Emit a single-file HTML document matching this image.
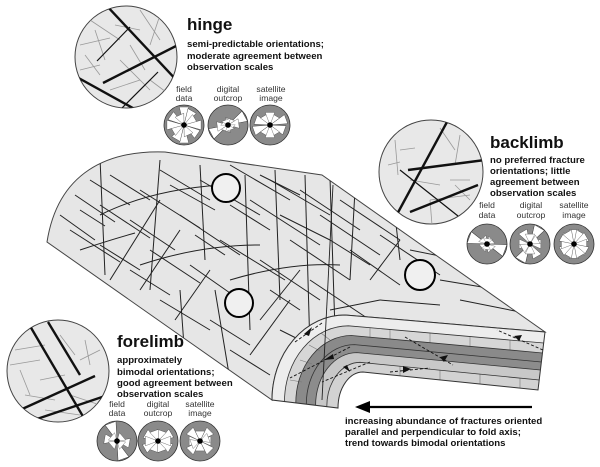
<!DOCTYPE html>
<html><head><meta charset="utf-8"><style>
html,body{margin:0;padding:0;background:#fff;}
svg{display:block;font-family:"Liberation Sans",Arial,sans-serif;}
.t{font-weight:bold;font-size:17px;fill:#111}
.s{font-weight:bold;font-size:9.6px;fill:#111}
.l{font-size:8.6px;fill:#333;text-anchor:middle}
.fr line,.fr path{stroke:#222;stroke-width:1;fill:none}
.g line{stroke:#999;stroke-width:0.8}
.k line{stroke:#111;stroke-width:2.4}
.k2 line{stroke:#111;stroke-width:1.2}
.pt use{fill:#fff;stroke:#333;stroke-width:0.4}
.tk line{stroke:#777;stroke-width:0.6}
.da{stroke:#111;stroke-width:0.9;stroke-dasharray:3,2;fill:none}
</style></head><body>
<svg width="600" height="467" viewBox="0 0 600 467">
<defs>
<path id="p" d="M0,0L-4.8,-18L4.8,-18Z"/>
<clipPath id="cs"><path d="M47,242 C58,172 108,150 165,152 L322,175 L545,332 L345,315 A73,85 0 0 0 272,400 Z"/></clipPath>
<clipPath id="ch"><circle cx="126" cy="57" r="51"/></clipPath>
<clipPath id="cb"><circle cx="431" cy="172" r="52"/></clipPath>
<clipPath id="cf"><circle cx="58" cy="371" r="51"/></clipPath>
</defs>

<path d="M47,242 C58,172 108,150 165,152 L322,175 L545,332 L345,315 A73,85 0 0 0 272,400 Z" fill="#e6e6e6" stroke="#444" stroke-width="1"/>
<g class="fr" clip-path="url(#cs)">
<line x1="60" y1="215" x2="95" y2="240"/><line x1="75" y1="195" x2="115" y2="222"/><line x1="90" y1="180" x2="130" y2="205"/><line x1="70" y1="230" x2="120" y2="262"/><line x1="100" y1="205" x2="150" y2="238"/><line x1="110" y1="175" x2="150" y2="200"/><line x1="130" y1="220" x2="175" y2="250"/><line x1="140" y1="190" x2="200" y2="228"/><line x1="160" y1="170" x2="210" y2="200"/><line x1="150" y1="250" x2="200" y2="283"/><line x1="180" y1="215" x2="240" y2="255"/><line x1="200" y1="180" x2="260" y2="215"/><line x1="230" y1="165" x2="290" y2="200"/><line x1="190" y1="265" x2="240" y2="300"/><line x1="220" y1="240" x2="285" y2="280"/><line x1="250" y1="200" x2="320" y2="245"/><line x1="270" y1="180" x2="330" y2="215"/><line x1="300" y1="190" x2="360" y2="230"/><line x1="260" y1="260" x2="320" y2="300"/><line x1="290" y1="240" x2="350" y2="280"/><line x1="320" y1="215" x2="380" y2="255"/><line x1="340" y1="200" x2="400" y2="240"/><line x1="310" y1="280" x2="370" y2="320"/><line x1="350" y1="250" x2="400" y2="285"/><line x1="380" y1="235" x2="440" y2="275"/><line x1="130" y1="270" x2="170" y2="295"/><line x1="160" y1="300" x2="210" y2="330"/><line x1="210" y1="320" x2="250" y2="345"/><line x1="230" y1="350" x2="270" y2="375"/><line x1="280" y1="330" x2="320" y2="350"/><line x1="100" y1="245" x2="140" y2="270"/>
<line x1="170" y1="185" x2="215" y2="210"/><line x1="260" y1="175" x2="300" y2="195"/><line x1="280" y1="215" x2="330" y2="240"/><line x1="230" y1="205" x2="270" y2="230"/><line x1="330" y1="240" x2="370" y2="265"/><line x1="80" y1="210" x2="105" y2="226"/><line x1="195" y1="235" x2="225" y2="255"/><line x1="270" y1="290" x2="300" y2="310"/>
<line x1="100" y1="158" x2="105" y2="275"/><line x1="160" y1="160" x2="150" y2="290"/><line x1="200" y1="165" x2="205" y2="260"/><line x1="245" y1="175" x2="250" y2="330"/><line x1="275" y1="170" x2="280" y2="300"/><line x1="305" y1="175" x2="310" y2="350"/><line x1="330" y1="178" x2="335" y2="330"/><line x1="355" y1="190" x2="350" y2="280"/><line x1="395" y1="215" x2="400" y2="260"/><line x1="215" y1="290" x2="230" y2="380"/><line x1="180" y1="290" x2="185" y2="360"/>
<path d="M100,215 Q150,190 220,185"/><path d="M140,265 Q200,245 260,245"/><path d="M230,280 Q290,262 340,265"/><path d="M80,250 Q110,240 135,233"/>
<line x1="110" y1="280" x2="160" y2="200"/><line x1="140" y1="290" x2="180" y2="230"/><line x1="175" y1="320" x2="210" y2="270"/><line x1="260" y1="320" x2="300" y2="270"/><line x1="250" y1="355" x2="290" y2="300"/><line x1="370" y1="280" x2="400" y2="240"/>
<line x1="410" y1="250" x2="470" y2="262"/><line x1="440" y1="280" x2="500" y2="290"/><line x1="460" y1="300" x2="520" y2="312"/><line x1="380" y1="300" x2="440" y2="305"/><line x1="330" y1="310" x2="380" y2="300"/><line x1="60" y1="258" x2="90" y2="275"/><line x1="120" y1="300" x2="160" y2="325"/>
</g>

<path d="M272,400 A73,85 0 0 1 345,315 L545,332 L543.7,343 L348.4,325.8 A63.9,75.7 0 0 0 284.5,401.5 Z" fill="#ededed"/>
<path d="M284.5,401.5 A63.9,75.7 0 0 1 348.4,325.8 L543.7,343 L542.5,353 L351.5,335.5 A55.7,67.4 0 0 0 295.8,402.9 Z" fill="#d6d6d6"/>
<path d="M295.8,402.9 A55.7,67.4 0 0 1 351.5,335.5 L542.5,353 L541.4,362 L354.4,344.6 A48.1,59.6 0 0 0 306.3,404.2 Z" fill="#8a8a8a"/>
<path d="M306.3,404.2 A48.1,59.6 0 0 1 354.4,344.6 L541.4,362 L540.4,370 L356.9,352.6 A41.3,52.7 0 0 0 315.6,405.3 Z" fill="#8c8c8c"/>
<path d="M315.6,405.3 A41.3,52.7 0 0 1 356.9,352.6 L540.4,370 L539.2,380 L360,362.3 A33.2,44.3 0 0 0 326.8,406.6 Z" fill="#c8c8c8"/>
<path d="M326.8,406.6 A33.2,44.3 0 0 1 360,362.3 L539.2,380 L538,390 L363,372 A25,36 0 0 0 338,408 Z" fill="#d2d2d2"/>
<g class="tk">
<line x1="390" y1="329.5" x2="390" y2="339"/><line x1="430" y1="333" x2="430" y2="342.6"/><line x1="470" y1="336.5" x2="470" y2="346.3"/><line x1="510" y1="340" x2="510" y2="350"/><line x1="370" y1="328" x2="370" y2="337"/>
<line x1="400" y1="366.3" x2="400" y2="375.7"/><line x1="440" y1="370.3" x2="440" y2="379.7"/><line x1="480" y1="374.3" x2="480" y2="383.7"/><line x1="520" y1="378.3" x2="520" y2="387.8"/>
<line x1="300" y1="360" x2="312" y2="364"/><line x1="309" y1="345" x2="320" y2="351"/><line x1="321" y1="333" x2="330" y2="340"/><line x1="290" y1="380" x2="302" y2="382"/>
</g>
<g fill="none" stroke="#333" stroke-width="0.8">
<path d="M284.5,401.5 A63.9,75.7 0 0 1 348.4,325.8 L543.7,343"/>
<path d="M295.8,402.9 A55.7,67.4 0 0 1 351.5,335.5 L542.5,353"/>
<path d="M306.3,404.2 A48.1,59.6 0 0 1 354.4,344.6 L541.4,362"/>
<path d="M315.6,405.3 A41.3,52.7 0 0 1 356.9,352.6 L540.4,370"/>
<path d="M326.8,406.6 A33.2,44.3 0 0 1 360,362.3 L539.2,380"/>
</g>
<path d="M272,400 A73,85 0 0 1 345,315 L545,332 L538,390 L363,372 A25,36 0 0 0 338,408 Z" fill="none" stroke="#333" stroke-width="1"/>
<line x1="333" y1="185" x2="322" y2="400" stroke="#222" stroke-width="0.9"/>
<path class="da" d="M295,342 L322,323"/><path d="M312,327 L304,334 L309,336Z" fill="#111"/>
<path class="da" d="M350,347 L290,378"/><path d="M324,360 L333,354 L334,359Z" fill="#111"/>
<path class="da" d="M405,337 L453,365"/><path d="M448,355 L440,357 L444,362Z" fill="#111"/>
<path class="da" d="M543,350 L497,330"/><path d="M522,335 L514,336 L519,341Z" fill="#111"/>
<path class="da" d="M370,362 L322,382"/><path d="M343,367 L350,372 L347,365Z" fill="#111"/>
<path class="da" d="M390,372 L430,368"/><path d="M403,366 L411,369 L403,373Z" fill="#111"/>

<g fill="#f0f0f0" stroke="#000" stroke-width="2"><circle cx="226" cy="188" r="14"/><circle cx="239" cy="303" r="14"/><circle cx="420" cy="275" r="15"/></g>

<line x1="532" y1="407" x2="368" y2="407" stroke="#000" stroke-width="2.2"/>
<path d="M355,407 L370,401 L370,413Z" fill="#000"/>
<text class="s" x="345" y="424">increasing abundance of fractures oriented</text>
<text class="s" x="345" y="435">parallel and perpendicular to fold axis;</text>
<text class="s" x="345" y="446">trend towards bimodal orientations</text>

<circle cx="126" cy="57" r="51" fill="#e8e8e8" stroke="#444"/>
<g clip-path="url(#ch)">
<g class="g"><line x1="90" y1="20" x2="120" y2="40"/><line x1="80" y1="45" x2="110" y2="38"/><line x1="140" y1="10" x2="160" y2="40"/><line x1="160" y1="15" x2="150" y2="45"/><line x1="85" y1="55" x2="100" y2="75"/><line x1="120" y1="60" x2="150" y2="90"/><line x1="130" y1="45" x2="145" y2="70"/><line x1="110" y1="90" x2="140" y2="80"/><line x1="150" y1="80" x2="170" y2="95"/><line x1="95" y1="30" x2="105" y2="60"/><line x1="80" y1="70" x2="100" y2="65"/><line x1="115" y1="25" x2="140" y2="30"/></g>
<g class="k"><line x1="106" y1="5" x2="180" y2="84"/><line x1="103" y1="83" x2="180" y2="44"/><line x1="75" y1="76" x2="140" y2="112"/></g>
<g class="k2"><line x1="97" y1="61" x2="130" y2="27"/><line x1="120" y1="110" x2="158" y2="72"/></g>
</g>
<text class="t" x="187" y="30">hinge</text>
<text class="s" x="187" y="47">semi-predictable orientations;</text>
<text class="s" x="187" y="59">moderate agreement between</text>
<text class="s" x="187" y="70">observation scales</text>
<text class="l" x="184" y="92">field</text><text class="l" x="184" y="101">data</text>
<text class="l" x="228" y="92">digital</text><text class="l" x="228" y="101">outcrop</text>
<text class="l" x="271" y="92">satellite</text><text class="l" x="271" y="101">image</text>

<circle cx="431" cy="172" r="52" fill="#e8e8e8" stroke="#444"/>
<g clip-path="url(#cb)">
<g class="g"><line x1="395" y1="140" x2="398" y2="175"/><line x1="400" y1="150" x2="415" y2="148"/><line x1="440" y1="128" x2="455" y2="150"/><line x1="460" y1="135" x2="455" y2="165"/><line x1="410" y1="180" x2="440" y2="185"/><line x1="430" y1="200" x2="470" y2="195"/><line x1="430" y1="200" x2="432" y2="225"/><line x1="455" y1="185" x2="470" y2="200"/><line x1="388" y1="165" x2="400" y2="162"/><line x1="450" y1="180" x2="470" y2="180"/></g>
<g class="k"><line x1="447" y1="122" x2="395" y2="218"/><line x1="408" y1="170" x2="485" y2="160"/><line x1="410" y1="212" x2="478" y2="185"/></g>
<g class="k2"><line x1="400" y1="170" x2="458" y2="216"/></g>
</g>
<text class="t" x="490" y="148">backlimb</text>
<text class="s" x="490" y="163">no preferred fracture</text>
<text class="s" x="490" y="174">orientations; little</text>
<text class="s" x="490" y="185">agreement between</text>
<text class="s" x="490" y="196">observation scales</text>
<text class="l" x="487" y="208">field</text><text class="l" x="487" y="218">data</text>
<text class="l" x="531" y="208">digital</text><text class="l" x="531" y="218">outcrop</text>
<text class="l" x="574" y="208">satellite</text><text class="l" x="574" y="218">image</text>

<circle cx="58" cy="371" r="51" fill="#e8e8e8" stroke="#444"/>
<g clip-path="url(#cf)">
<g class="g"><line x1="15" y1="350" x2="45" y2="345"/><line x1="20" y1="370" x2="30" y2="395"/><line x1="60" y1="335" x2="75" y2="355"/><line x1="85" y1="340" x2="90" y2="365"/><line x1="40" y1="380" x2="65" y2="375"/><line x1="70" y1="395" x2="100" y2="405"/><line x1="25" y1="395" x2="55" y2="400"/><line x1="10" y1="365" x2="40" y2="360"/><line x1="80" y1="360" x2="100" y2="350"/><line x1="45" y1="410" x2="80" y2="415"/></g>
<g class="k"><line x1="48" y1="322" x2="80" y2="375"/><line x1="30" y1="326" x2="88" y2="425"/><line x1="20" y1="410" x2="95" y2="376"/><line x1="34" y1="420" x2="108" y2="395"/></g>
</g>
<text class="t" x="117" y="347">forelimb</text>
<text class="s" x="117" y="363">approximately</text>
<text class="s" x="117" y="375">bimodal orientations;</text>
<text class="s" x="117" y="386">good agreement between</text>
<text class="s" x="117" y="397">observation scales</text>
<text class="l" x="117" y="407">field</text><text class="l" x="117" y="416">data</text>
<text class="l" x="158" y="407">digital</text><text class="l" x="158" y="416">outcrop</text>
<text class="l" x="200" y="407">satellite</text><text class="l" x="200" y="416">image</text>

<g fill="#8a8a8a" stroke="#333" stroke-width="0.8">
<circle cx="184" cy="125" r="20"/><circle cx="228" cy="125" r="20"/><circle cx="270" cy="125" r="20"/>
<circle cx="487" cy="244" r="20"/><circle cx="530" cy="244" r="20"/><circle cx="574" cy="244" r="20"/>
<circle cx="117" cy="441" r="20"/><circle cx="158" cy="441" r="20"/><circle cx="200" cy="441" r="20"/>
</g>
<g class="pt">
<g transform="translate(184,125)"><use href="#p" transform="rotate(0)"/><use href="#p" transform="rotate(180)"/><use href="#p" transform="rotate(30) scale(1,.9)"/><use href="#p" transform="rotate(210) scale(1,.9)"/><use href="#p" transform="rotate(60) scale(1,.7)"/><use href="#p" transform="rotate(240) scale(1,.7)"/><use href="#p" transform="rotate(90) scale(1,.95)"/><use href="#p" transform="rotate(270) scale(1,.95)"/><use href="#p" transform="rotate(125) scale(1,.9)"/><use href="#p" transform="rotate(305) scale(1,.9)"/><use href="#p" transform="rotate(155) scale(1,.6)"/><use href="#p" transform="rotate(335) scale(1,.6)"/></g>
<g transform="translate(228,125)"><use href="#p" transform="rotate(62) scale(1.2,1.05)"/><use href="#p" transform="rotate(242) scale(1.2,1.05)"/><use href="#p" transform="rotate(82) scale(1,.6)"/><use href="#p" transform="rotate(262) scale(1,.6)"/><use href="#p" transform="rotate(20) scale(1,.35)"/><use href="#p" transform="rotate(200) scale(1,.35)"/><use href="#p" transform="rotate(130) scale(1,.3)"/><use href="#p" transform="rotate(310) scale(1,.3)"/><use href="#p" transform="rotate(160) scale(1,.3)"/><use href="#p" transform="rotate(340) scale(1,.3)"/></g>
<g transform="translate(270,125)"><use href="#p" transform="rotate(70) scale(1,.95)"/><use href="#p" transform="rotate(250) scale(1,.95)"/><use href="#p" transform="rotate(110) scale(1,.85)"/><use href="#p" transform="rotate(290) scale(1,.85)"/><use href="#p" transform="rotate(30) scale(1,.6)"/><use href="#p" transform="rotate(210) scale(1,.6)"/><use href="#p" transform="rotate(150) scale(1,.6)"/><use href="#p" transform="rotate(330) scale(1,.6)"/><use href="#p" transform="rotate(0) scale(1,.7)"/><use href="#p" transform="rotate(180) scale(1,.7)"/></g>
<g transform="translate(487,244)"><use href="#p" transform="rotate(110) scale(1.3,1.05)"/><use href="#p" transform="rotate(290) scale(1.3,1.05)"/><use href="#p" transform="rotate(50) scale(1,.35)"/><use href="#p" transform="rotate(230) scale(1,.35)"/><use href="#p" transform="rotate(140) scale(1,.4)"/><use href="#p" transform="rotate(320) scale(1,.4)"/><use href="#p" transform="rotate(10) scale(1,.3)"/><use href="#p" transform="rotate(190) scale(1,.3)"/></g>
<g transform="translate(530,244)"><use href="#p" transform="rotate(30) scale(1.2,1.05)"/><use href="#p" transform="rotate(210) scale(1.2,1.05)"/><use href="#p" transform="rotate(150) scale(1,.8)"/><use href="#p" transform="rotate(330) scale(1,.8)"/><use href="#p" transform="rotate(90) scale(1,.6)"/><use href="#p" transform="rotate(270) scale(1,.6)"/><use href="#p" transform="rotate(0) scale(1,.55)"/><use href="#p" transform="rotate(180) scale(1,.55)"/><use href="#p" transform="rotate(60) scale(1,.5)"/><use href="#p" transform="rotate(240) scale(1,.5)"/></g>
<g transform="translate(574,244)"><use href="#p" transform="rotate(0) scale(1,.8)"/><use href="#p" transform="rotate(180) scale(1,.8)"/><use href="#p" transform="rotate(30) scale(1,.75)"/><use href="#p" transform="rotate(210) scale(1,.75)"/><use href="#p" transform="rotate(60) scale(1,.8)"/><use href="#p" transform="rotate(240) scale(1,.8)"/><use href="#p" transform="rotate(90) scale(1,.7)"/><use href="#p" transform="rotate(270) scale(1,.7)"/><use href="#p" transform="rotate(120) scale(1,.8)"/><use href="#p" transform="rotate(300) scale(1,.8)"/><use href="#p" transform="rotate(150) scale(1,.75)"/><use href="#p" transform="rotate(330) scale(1,.75)"/></g>
<g transform="translate(117,441)"><use href="#p" transform="rotate(160) scale(1.2,1.05)"/><use href="#p" transform="rotate(340) scale(1.2,1.05)"/><use href="#p" transform="rotate(100) scale(1,.7)"/><use href="#p" transform="rotate(280) scale(1,.7)"/><use href="#p" transform="rotate(50) scale(1,.4)"/><use href="#p" transform="rotate(230) scale(1,.4)"/><use href="#p" transform="rotate(130) scale(1,.4)"/><use href="#p" transform="rotate(310) scale(1,.4)"/></g>
<g transform="translate(158,441)"><use href="#p" transform="rotate(60) scale(1,.85)"/><use href="#p" transform="rotate(240) scale(1,.85)"/><use href="#p" transform="rotate(120) scale(1,.8)"/><use href="#p" transform="rotate(300) scale(1,.8)"/><use href="#p" transform="rotate(90) scale(1,.7)"/><use href="#p" transform="rotate(270) scale(1,.7)"/><use href="#p" transform="rotate(20) scale(1,.6)"/><use href="#p" transform="rotate(200) scale(1,.6)"/><use href="#p" transform="rotate(160) scale(1,.6)"/><use href="#p" transform="rotate(340) scale(1,.6)"/></g>
<g transform="translate(200,441)"><use href="#p" transform="rotate(45) scale(1,.8)"/><use href="#p" transform="rotate(225) scale(1,.8)"/><use href="#p" transform="rotate(135) scale(1,.8)"/><use href="#p" transform="rotate(315) scale(1,.8)"/><use href="#p" transform="rotate(90) scale(1,.6)"/><use href="#p" transform="rotate(270) scale(1,.6)"/><use href="#p" transform="rotate(0) scale(1,.55)"/><use href="#p" transform="rotate(180) scale(1,.55)"/><use href="#p" transform="rotate(70) scale(1,.5)"/><use href="#p" transform="rotate(250) scale(1,.5)"/></g>
</g>
<g fill="#000">
<circle cx="184" cy="125" r="2.8"/><circle cx="228" cy="125" r="2.8"/><circle cx="270" cy="125" r="2.8"/>
<circle cx="487" cy="244" r="2.8"/><circle cx="530" cy="244" r="2.8"/><circle cx="574" cy="244" r="2.8"/>
<circle cx="117" cy="441" r="2.8"/><circle cx="158" cy="441" r="2.8"/><circle cx="200" cy="441" r="2.8"/>
</g>
</svg>
</body></html>
